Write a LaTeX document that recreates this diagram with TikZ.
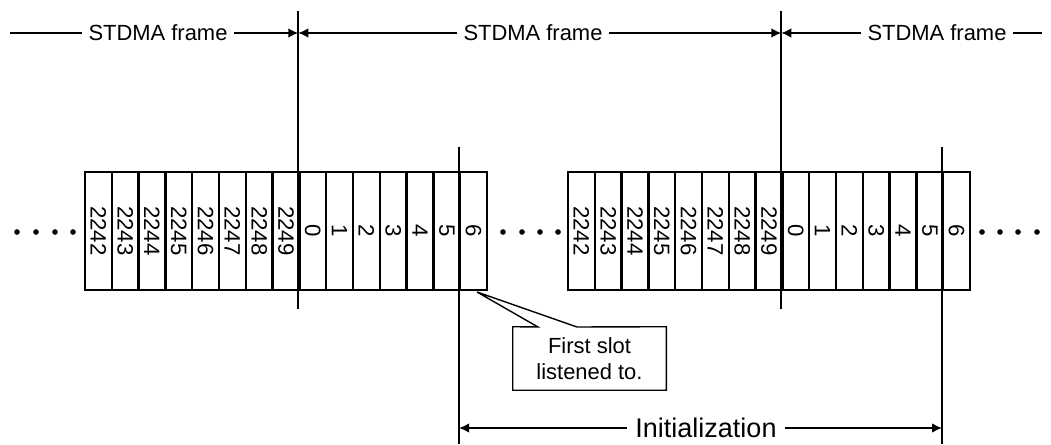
\documentclass[tikz,border=0pt]{standalone}
\usepackage{fontspec}
\setmainfont{Liberation Sans}
\usetikzlibrary{arrows.meta}

\begin{document}
\begin{tikzpicture}[x=0.025cm, y=-0.025cm,
		cell/.style={draw, line width=1.6pt, minimum width=0.67cm, minimum height=2.95cm, inner sep=0pt, font=\fontsize{15.8}{18}\selectfont},
		frame/.style={line width=1.6pt},
		dim/.style={line width=1.1pt, -{Latex[length=0.25cm, width=0.24cm]}},
		lbl/.style={inner sep=0.15cm, font=\fontsize{15.6}{18}\selectfont},
	]
	\useasboundingbox (0,0) rectangle (1051,445);

	% primo blocco di slot
	\foreach \n [count=\k from 1] in {2242,2243,2244,2245,2246,2247,2248,2249,0,1,2,3,4,5,6}
		\node[cell] (a\k) at (98.4+26.8*\k-26.8,231) {\rotatebox{-90}{\n}};
	% secondo blocco di slot
	\foreach \n [count=\k from 1] in {2242,2243,2244,2245,2246,2247,2248,2249,0,1,2,3,4,5,6}
		\node[cell] (b\k) at (581.4+26.8*\k-26.8,231) {\rotatebox{-90}{\n}};

	% puntini
	\foreach \x in {17,36,55,73,503,522,540,558,982,1000,1018,1037}
		\fill (\x,232) circle (2pt);

	% confini dei frame
	\draw[frame] (a9.south west) ++(0,18) -- ++(0,-298);
	\draw[frame, line width=1.2pt] (b9.south west) ++(0,18) -- ++(0,-298);
	\draw[frame] (a15.north west) ++(0,-24) -- ++(0,297);
	\draw[frame] (b15.north west) ++(0,-24) -- ++(0,297);

	% frame in alto
	\coordinate (l0) at (10,33);
	\coordinate (r0) at (1042,33);
	\node[lbl] (f1) at (158,33) {STDMA frame};
	\node[lbl] (f2) at (533,33) {STDMA frame};
	\node[lbl] (f3) at (937,33) {STDMA frame};
	\draw[line width=1.1pt] (l0) -- (f1.west);
	\draw[dim] (f1.east) -- (f1 -| a9.west);
	\draw[dim] (f2.west) -- (f2 -| a9.west);
	\draw[dim] (f2.east) -- (f2 -| b9.west);
	\draw[dim] (f3.west) -- (f3 -| b9.west);
	\draw[line width=1.1pt] (f3.east) -- (r0);

	% inizializzazione
	\node[lbl, inner sep=0.2cm, font=\fontsize{19.2}{22}\selectfont] (ini) at (706,428) {Initialization};
	\draw[dim] (ini.west) -- (ini -| a15.west);
	\draw[dim] (ini.east) -- (ini -| b15.west);

	% nota
	\node[lbl, align=center, minimum width=3.825cm, minimum height=1.575cm, font=\fontsize{15.6}{18.5}\selectfont] (note) at (589.5,358.5) {First slot\\listened to.};
	\coordinate (tip) at (477,292);
	\coordinate (p1) at (538,327);
	\coordinate (p2) at (577,327);
	\draw[line width=1pt] (note.north west) -- (p1) -- (tip) -- (p2) -- (note.north east) -- (note.south east) -- (note.south west) -- cycle;
\end{tikzpicture}
\end{document}
